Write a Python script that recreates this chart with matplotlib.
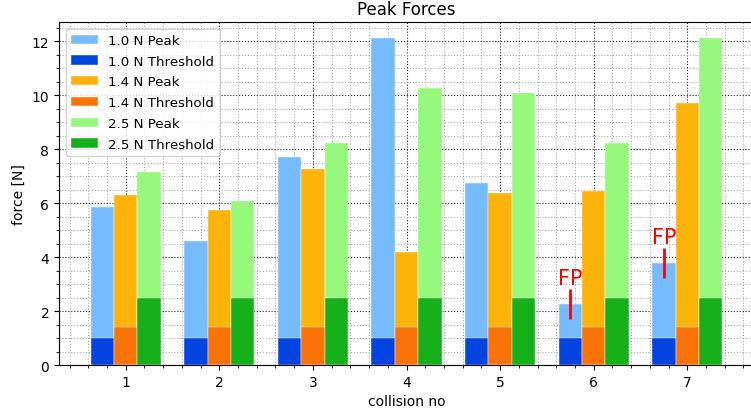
import numpy as np
import matplotlib
matplotlib.use('Agg')
import matplotlib.pyplot as plt
from matplotlib.ticker import MultipleLocator

collisions = [1, 2, 3, 4, 5, 6, 7]
peak_10 = [5.85, 4.59, 7.71, 12.1, 6.75, 2.26, 3.77]
peak_14 = [6.30, 5.75, 7.27, 4.17, 6.38, 6.45, 9.71]
peak_25 = [7.14, 6.07, 8.24, 10.26, 10.07, 8.21, 12.1]
thresholds = [1.0, 1.4, 2.5]
labels = ['1.0 N', '1.4 N', '2.5 N']
fp_collisions = [6, 7]  # false positives, marked on the 1.0 N bars

peak_colors = ['xkcd:sky blue', 'xkcd:amber', 'xkcd:light green']
thr_colors = ['xkcd:blue', 'xkcd:orange', 'xkcd:green']

fig = plt.figure(figsize=(7.51, 4.14), dpi=100)
ax = fig.add_axes([0.0786, 0.1159, 0.9254, 0.8285])

x = np.array(collisions)
width = 0.25
peaks = [peak_10, peak_14, peak_25]
for i, (pk, thr) in enumerate(zip(peaks, thresholds)):
    pos = x + (i - 1) * width
    ax.bar(pos, pk, width, color=peak_colors[i], edgecolor='white', linewidth=0.3,
           label=labels[i] + ' Peak', zorder=2)
    ax.bar(pos, [thr] * len(x), width, color=thr_colors[i], edgecolor='white', linewidth=0.3,
           label=labels[i] + ' Threshold', zorder=3)

for c in fp_collisions:
    xp = c - width
    yp = peak_10[c - 1]
    ax.plot([xp], [yp], marker='|', markersize=21, mew=2, color='red', zorder=4)
    ax.text(xp, yp + 0.75, 'FP', color='red', fontsize=15, ha='center', va='baseline', zorder=4)

ax.xaxis.set_major_locator(MultipleLocator(1))
ax.xaxis.set_minor_locator(MultipleLocator(0.2))
ax.yaxis.set_major_locator(MultipleLocator(2))
ax.yaxis.set_minor_locator(MultipleLocator(0.5))
ax.grid(which='major', linestyle=':', color='#222222', linewidth=0.8)
ax.grid(which='minor', linestyle=':', color='#aaaaaa', linewidth=0.8)
ax.set_axisbelow(True)

ax.set_xlabel('collision no')
ax.set_ylabel('force [N]')
ax.set_title('Peak Forces')
ax.legend(loc='upper left', fontsize=9.6, labelspacing=0.58)

fig.savefig('out.png', dpi=100)
